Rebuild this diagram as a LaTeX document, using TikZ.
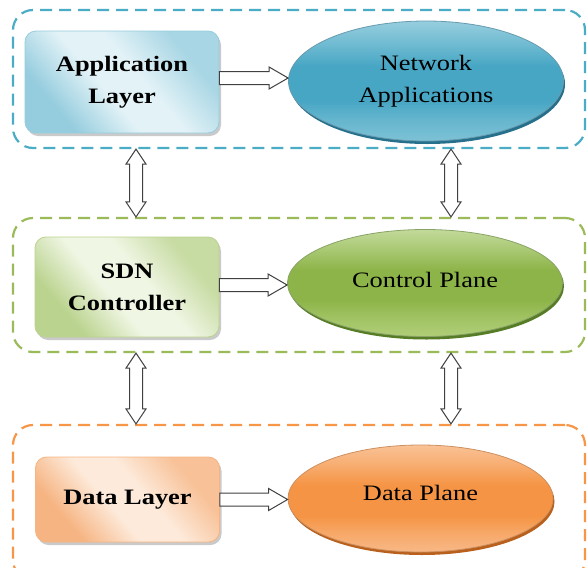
\documentclass[tikz,border=0pt]{standalone}
\usepackage{fontspec}
\setmainfont{Liberation Serif}[FakeStretch=1.2]
\usetikzlibrary{shapes.geometric,shadows,calc}

% group frames
\definecolor{grpblue}{RGB}{75,172,198}
\definecolor{grpgreen}{RGB}{155,187,89}
\definecolor{grporange}{RGB}{247,150,70}
% layer boxes
\definecolor{appedge}{RGB}{150,205,222}
\definecolor{appmid}{RGB}{226,242,247}
\definecolor{sdnedge}{RGB}{186,211,142}
\definecolor{sdnmid}{RGB}{240,246,228}
\definecolor{datedge}{RGB}{246,180,130}
\definecolor{datmid}{RGB}{253,234,218}
% plane ellipses
\definecolor{bluetop}{RGB}{150,206,222}
\definecolor{bluemid}{RGB}{70,166,196}
\definecolor{bluebot}{RGB}{126,194,214}
\definecolor{bluerim}{RGB}{38,112,140}
\definecolor{greentop}{RGB}{194,218,154}
\definecolor{greenmid}{RGB}{141,180,72}
\definecolor{greenbot}{RGB}{176,206,120}
\definecolor{greenrim}{RGB}{86,124,38}
\definecolor{orangetop}{RGB}{249,194,150}
\definecolor{orangemid}{RGB}{245,148,68}
\definecolor{orangebot}{RGB}{248,184,134}
\definecolor{orangerim}{RGB}{184,96,28}

% shading of a plane ellipse: light top, broad saturated body, lighter bottom
\newcommand\planeshading[4]{%
  \colorlet{#1lo}{#4!55!#3}\colorlet{#1hi}{#2!55!#3}%
  \pgfdeclareverticalshading{#1}{100bp}{color(0bp)=(#4); color(25bp)=(#4);
    color(34bp)=(#1lo); color(42bp)=(#3); color(56bp)=(#3); color(66bp)=(#1hi);
    color(75bp)=(#2); color(100bp)=(#2)}}
\planeshading{blueplane}{bluetop}{bluemid}{bluebot}
\planeshading{greenplane}{greentop}{greenmid}{greenbot}
\planeshading{orangeplane}{orangetop}{orangemid}{orangebot}

% shading of a layer box: saturated edges, light diagonal band
\newcommand\boxshading[3]{%
  \colorlet{#1soft}{#2!75!#3}%
  \pgfdeclareverticalshading{#1}{100bp}{color(0bp)=(#2); color(28bp)=(#2);
    color(44bp)=(#3); color(56bp)=(#3); color(72bp)=(#1soft); color(100bp)=(#1soft)}}
\boxshading{appshade}{appedge}{appmid}
\boxshading{sdnshade}{sdnedge}{sdnmid}
\boxshading{datshade}{datedge}{datmid}

% hollow block arrows
\newcommand\fatharrow[2]{%
  \draw[fatarrow] let \p1=(#1), \p2=(#2) in
    (\x1,\y1+6.5pt) -- (\x2-19pt,\y1+6.5pt) -- (\x2-19pt,\y1+11pt) -- (\x2,\y1)
    -- (\x2-19pt,\y1-11pt) -- (\x2-19pt,\y1-6.5pt) -- (\x1,\y1-6.5pt) -- cycle;}
\newcommand\fatvarrow[2]{%
  \draw[fatarrow] let \p1=(#1), \p2=(#2) in
    (\x1,\y1) -- (\x1+10pt,\y1-15pt) -- (\x1+6.5pt,\y1-15pt) -- (\x1+6.5pt,\y2+15pt)
    -- (\x1+10pt,\y2+15pt) -- (\x1,\y2) -- (\x1-10pt,\y2+15pt) -- (\x1-6.5pt,\y2+15pt)
    -- (\x1-6.5pt,\y1-15pt) -- (\x1-10pt,\y1-15pt) -- cycle;}

\begin{document}
\begin{tikzpicture}[x=1pt,y=-1pt,
  group/.style={rectangle, rounded corners=20pt, line width=2.2pt,
    dash pattern=on 12pt off 7pt, minimum width=572pt, inner sep=0pt},
  layerbox/.style={rectangle, rounded corners=11pt, inner sep=0pt, align=center,
    font=\bfseries\fontsize{22}{32}\selectfont, line width=0.8pt,
    shading angle=-50,
    drop shadow={shadow xshift=2pt, shadow yshift=-3pt, opacity=0.35, fill=black!60}},
  plane/.style={ellipse, inner sep=0pt, align=center, line width=0.8pt,
    font=\fontsize{22}{32}\selectfont},
  fatarrow/.style={draw=black!75, fill=white, line width=1pt, line join=miter},
]
\useasboundingbox (0,0) rectangle (587,568);
\clip (0,0) rectangle (587,568);

% dashed group frames
\node[group, draw=grpblue, minimum height=138pt] (grpA) at (299,79) {};
\node[group, draw=grpgreen, minimum height=134pt] (grpB) at (299,285) {};
\node[group, draw=grporange, minimum height=155pt] (grpC) at (299,502.5) {};

% layer boxes
\node[layerbox, minimum width=194pt, minimum height=102pt, draw=appedge,
  shading=appshade] (app) at (122,82) {Application\\Layer};
\node[layerbox, minimum width=184pt, minimum height=100pt, draw=sdnedge,
  shading=sdnshade] (sdn) at (127,287) {SDN\\Controller};
\node[layerbox, minimum width=184pt, minimum height=85pt, draw=datedge,
  shading=datshade] (data) at (127.5,499.5) {Data Layer};

% plane ellipses
\node[plane, minimum width=275pt, minimum height=120pt, draw=bluerim!70,
  general shadow={fill=bluerim, shadow xshift=1.5pt, shadow yshift=-3pt},
  shading=blueplane] (netapp) at (426,81) {Network\\Applications};
\node[plane, minimum width=275pt, minimum height=107pt, draw=greenrim!70,
  general shadow={fill=greenrim, shadow xshift=1.5pt, shadow yshift=-3pt},
  shading=greenplane] (ctrl) at (425,283) {\raisebox{7pt}{Control Plane}};
\node[plane, minimum width=265pt, minimum height=107pt, draw=orangerim!70,
  general shadow={fill=orangerim, shadow xshift=1.5pt, shadow yshift=-3pt},
  shading=orangeplane] (dplane) at (420.5,498.5) {\raisebox{11pt}{Data Plane}};

% box to plane arrows
\fatharrow{[yshift=4pt]app.east}{netapp.west}
\fatharrow{[yshift=2pt]sdn.east}{ctrl.west}
\fatharrow{data.east}{dplane.west}

% arrows between the groups
\fatvarrow{[xshift=-163pt]grpA.south}{[xshift=-163pt]grpB.north}
\fatvarrow{[xshift=152pt]grpA.south}{[xshift=152pt]grpB.north}
\fatvarrow{[xshift=-163pt]grpB.south}{[xshift=-163pt]grpC.north}
\fatvarrow{[xshift=152pt]grpB.south}{[xshift=152pt]grpC.north}
\end{tikzpicture}
\end{document}
